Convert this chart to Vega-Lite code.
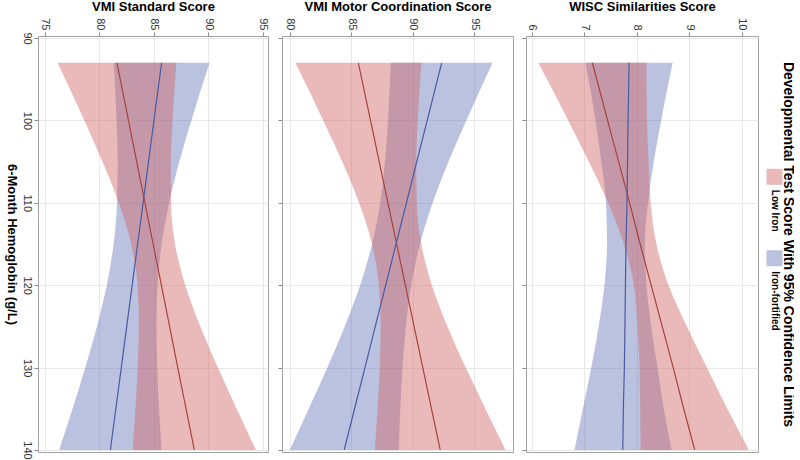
{
  "$schema": "https://vega.github.io/schema/vega-lite/v6.json",
  "padding": {"left": 3, "top": 0, "right": 0, "bottom": 0},
  "background": "white",
  "config": {
    "font": "Liberation Sans",
    "view": {"stroke": "#a0a0a0"},
    "axis": {"gridColor": "#e8e8e8", "tickColor": "#888888", "domain": false, "labelColor": "#333333", "labelFontSize": 11, "titleFontSize": 13, "titleFontWeight": "bold", "titleColor": "#000000", "tickSize": 4, "labelPadding": 2},
    "concat": {"spacing": 7}
  },
  "resolve": {"scale": {"x": "independent", "y": "independent", "color": "independent"}},
  "datasets": {
    "bands": [
      {"test": "VMI Standard Score", "group": "Low Iron", "hb": 93, "fit": 81.6, "lo": 76.15, "hi": 87.05},
      {"test": "VMI Standard Score", "group": "Low Iron", "hb": 100, "fit": 82.66, "lo": 78.61, "hi": 86.71},
      {"test": "VMI Standard Score", "group": "Low Iron", "hb": 105, "fit": 83.41, "lo": 80.27, "hi": 86.55},
      {"test": "VMI Standard Score", "group": "Low Iron", "hb": 110, "fit": 84.17, "lo": 81.77, "hi": 86.57},
      {"test": "VMI Standard Score", "group": "Low Iron", "hb": 115, "fit": 84.92, "lo": 82.91, "hi": 86.93},
      {"test": "VMI Standard Score", "group": "Low Iron", "hb": 120, "fit": 85.68, "lo": 83.49, "hi": 87.87},
      {"test": "VMI Standard Score", "group": "Low Iron", "hb": 125, "fit": 86.43, "lo": 83.61, "hi": 89.25},
      {"test": "VMI Standard Score", "group": "Low Iron", "hb": 130, "fit": 87.18, "lo": 83.5, "hi": 90.86},
      {"test": "VMI Standard Score", "group": "Low Iron", "hb": 135, "fit": 87.94, "lo": 83.3, "hi": 92.58},
      {"test": "VMI Standard Score", "group": "Low Iron", "hb": 140, "fit": 88.7, "lo": 83.04, "hi": 94.36},
      {"test": "VMI Standard Score", "group": "Iron-fortified", "hb": 93, "fit": 85.7, "lo": 81.3, "hi": 90.1},
      {"test": "VMI Standard Score", "group": "Iron-fortified", "hb": 100, "fit": 85.0, "lo": 81.57, "hi": 88.43},
      {"test": "VMI Standard Score", "group": "Iron-fortified", "hb": 105, "fit": 84.5, "lo": 81.67, "hi": 87.33},
      {"test": "VMI Standard Score", "group": "Iron-fortified", "hb": 110, "fit": 84.0, "lo": 81.61, "hi": 86.39},
      {"test": "VMI Standard Score", "group": "Iron-fortified", "hb": 115, "fit": 83.5, "lo": 81.3, "hi": 85.7},
      {"test": "VMI Standard Score", "group": "Iron-fortified", "hb": 120, "fit": 83.0, "lo": 80.67, "hi": 85.33},
      {"test": "VMI Standard Score", "group": "Iron-fortified", "hb": 125, "fit": 82.5, "lo": 79.77, "hi": 85.23},
      {"test": "VMI Standard Score", "group": "Iron-fortified", "hb": 130, "fit": 82.0, "lo": 78.7, "hi": 85.3},
      {"test": "VMI Standard Score", "group": "Iron-fortified", "hb": 135, "fit": 81.5, "lo": 77.53, "hi": 85.47},
      {"test": "VMI Standard Score", "group": "Iron-fortified", "hb": 140, "fit": 81.0, "lo": 76.3, "hi": 85.7},
      {"test": "VMI Motor Coordination Score", "group": "Low Iron", "hb": 93, "fit": 85.57, "lo": 80.44, "hi": 90.7},
      {"test": "VMI Motor Coordination Score", "group": "Low Iron", "hb": 100, "fit": 86.56, "lo": 82.71, "hi": 90.41},
      {"test": "VMI Motor Coordination Score", "group": "Low Iron", "hb": 105, "fit": 87.27, "lo": 84.25, "hi": 90.29},
      {"test": "VMI Motor Coordination Score", "group": "Low Iron", "hb": 110, "fit": 87.98, "lo": 85.63, "hi": 90.33},
      {"test": "VMI Motor Coordination Score", "group": "Low Iron", "hb": 115, "fit": 88.69, "lo": 86.68, "hi": 90.7},
      {"test": "VMI Motor Coordination Score", "group": "Low Iron", "hb": 120, "fit": 89.4, "lo": 87.24, "hi": 91.56},
      {"test": "VMI Motor Coordination Score", "group": "Low Iron", "hb": 125, "fit": 90.11, "lo": 87.39, "hi": 92.83},
      {"test": "VMI Motor Coordination Score", "group": "Low Iron", "hb": 130, "fit": 90.82, "lo": 87.32, "hi": 94.32},
      {"test": "VMI Motor Coordination Score", "group": "Low Iron", "hb": 135, "fit": 91.53, "lo": 87.14, "hi": 95.92},
      {"test": "VMI Motor Coordination Score", "group": "Low Iron", "hb": 140, "fit": 92.24, "lo": 86.92, "hi": 97.56},
      {"test": "VMI Motor Coordination Score", "group": "Iron-fortified", "hb": 93, "fit": 92.36, "lo": 88.21, "hi": 96.51},
      {"test": "VMI Motor Coordination Score", "group": "Iron-fortified", "hb": 100, "fit": 91.18, "lo": 87.99, "hi": 94.37},
      {"test": "VMI Motor Coordination Score", "group": "Iron-fortified", "hb": 105, "fit": 90.33, "lo": 87.74, "hi": 92.92},
      {"test": "VMI Motor Coordination Score", "group": "Iron-fortified", "hb": 110, "fit": 89.49, "lo": 87.35, "hi": 91.63},
      {"test": "VMI Motor Coordination Score", "group": "Iron-fortified", "hb": 115, "fit": 88.64, "lo": 86.69, "hi": 90.59},
      {"test": "VMI Motor Coordination Score", "group": "Iron-fortified", "hb": 120, "fit": 87.8, "lo": 85.72, "hi": 89.88},
      {"test": "VMI Motor Coordination Score", "group": "Iron-fortified", "hb": 125, "fit": 86.95, "lo": 84.46, "hi": 89.44},
      {"test": "VMI Motor Coordination Score", "group": "Iron-fortified", "hb": 130, "fit": 86.11, "lo": 83.05, "hi": 89.17},
      {"test": "VMI Motor Coordination Score", "group": "Iron-fortified", "hb": 135, "fit": 85.26, "lo": 81.53, "hi": 88.99},
      {"test": "VMI Motor Coordination Score", "group": "Iron-fortified", "hb": 140, "fit": 84.42, "lo": 79.98, "hi": 88.86},
      {"test": "WISC Similarities Score", "group": "Low Iron", "hb": 93, "fit": 7.15, "lo": 6.12, "hi": 8.18},
      {"test": "WISC Similarities Score", "group": "Low Iron", "hb": 100, "fit": 7.44, "lo": 6.69, "hi": 8.19},
      {"test": "WISC Similarities Score", "group": "Low Iron", "hb": 105, "fit": 7.65, "lo": 7.08, "hi": 8.22},
      {"test": "WISC Similarities Score", "group": "Low Iron", "hb": 110, "fit": 7.86, "lo": 7.45, "hi": 8.26},
      {"test": "WISC Similarities Score", "group": "Low Iron", "hb": 115, "fit": 8.06, "lo": 7.75, "hi": 8.37},
      {"test": "WISC Similarities Score", "group": "Low Iron", "hb": 120, "fit": 8.27, "lo": 7.94, "hi": 8.6},
      {"test": "WISC Similarities Score", "group": "Low Iron", "hb": 125, "fit": 8.48, "lo": 8.01, "hi": 8.95},
      {"test": "WISC Similarities Score", "group": "Low Iron", "hb": 130, "fit": 8.69, "lo": 8.05, "hi": 9.33},
      {"test": "WISC Similarities Score", "group": "Low Iron", "hb": 135, "fit": 8.89, "lo": 8.06, "hi": 9.72},
      {"test": "WISC Similarities Score", "group": "Low Iron", "hb": 140, "fit": 9.1, "lo": 8.07, "hi": 10.13},
      {"test": "WISC Similarities Score", "group": "Iron-fortified", "hb": 93, "fit": 7.85, "lo": 7.02, "hi": 8.68},
      {"test": "WISC Similarities Score", "group": "Iron-fortified", "hb": 100, "fit": 7.83, "lo": 7.21, "hi": 8.46},
      {"test": "WISC Similarities Score", "group": "Iron-fortified", "hb": 105, "fit": 7.82, "lo": 7.32, "hi": 8.32},
      {"test": "WISC Similarities Score", "group": "Iron-fortified", "hb": 110, "fit": 7.81, "lo": 7.41, "hi": 8.21},
      {"test": "WISC Similarities Score", "group": "Iron-fortified", "hb": 115, "fit": 7.79, "lo": 7.43, "hi": 8.15},
      {"test": "WISC Similarities Score", "group": "Iron-fortified", "hb": 120, "fit": 7.78, "lo": 7.38, "hi": 8.18},
      {"test": "WISC Similarities Score", "group": "Iron-fortified", "hb": 125, "fit": 7.77, "lo": 7.27, "hi": 8.27},
      {"test": "WISC Similarities Score", "group": "Iron-fortified", "hb": 130, "fit": 7.76, "lo": 7.13, "hi": 8.39},
      {"test": "WISC Similarities Score", "group": "Iron-fortified", "hb": 135, "fit": 7.74, "lo": 6.97, "hi": 8.51},
      {"test": "WISC Similarities Score", "group": "Iron-fortified", "hb": 140, "fit": 7.73, "lo": 6.81, "hi": 8.66}
    ],
    "legend": [{"group": "Low Iron", "order": 0}, {"group": "Iron-fortified", "order": 1}]
  },
  "hconcat": [
    {
      "width": 230, "height": 416,
      "data": {"name": "bands"},
      "transform": [{"filter": "datum.test === 'VMI Standard Score'"}],
      "encoding": {
        "y": {"field": "hb", "type": "quantitative", "scale": {"domain": [89.75, 140.25], "nice": false, "zero": false, "reverse": true},
              "axis": {"values": [90, 100, 110, 120, 130, 140], "labelAngle": 90, "title": "6-Month Hemoglobin (g/L)", "titleAngle": 90, "titleBaseline": "top", "titlePadding": 4, "grid": true}}
      },
      "layer": [
        {"transform": [{"filter": "datum.group === 'Iron-fortified'"}],
         "mark": {"type": "area", "interpolate": "monotone", "opacity": 0.45, "color": "#6677b8"},
         "encoding": {"x": {"field": "lo", "type": "quantitative", "title": "VMI Standard Score", "scale": {"domain": [74.36, 95.46], "nice": false, "zero": false},
                            "axis": {"orient": "top", "values": [75, 80, 85, 90, 95], "labelAngle": 90, "grid": true, "titlePadding": 4}},
                      "x2": {"field": "hi"}}},
        {"transform": [{"filter": "datum.group === 'Low Iron'"}],
         "mark": {"type": "area", "interpolate": "monotone", "opacity": 0.45, "color": "#d06666"},
         "encoding": {"x": {"field": "lo", "type": "quantitative", "title": "VMI Standard Score"}, "x2": {"field": "hi"}}},
        {"mark": {"type": "line", "strokeWidth": 1.2},
         "encoding": {"x": {"field": "fit", "type": "quantitative", "title": "VMI Standard Score"}, "order": {"field": "hb"},
                      "color": {"field": "group", "type": "nominal", "scale": {"domain": ["Low Iron", "Iron-fortified"], "range": ["#a8423c", "#4a5aa3"]}, "legend": null}}}
      ]
    },
    {
      "width": 231, "height": 416,
      "data": {"name": "bands"},
      "transform": [{"filter": "datum.test === 'VMI Motor Coordination Score'"}],
      "encoding": {
        "y": {"field": "hb", "type": "quantitative", "scale": {"domain": [89.75, 140.25], "nice": false, "zero": false, "reverse": true},
              "axis": {"values": [90, 100, 110, 120, 130, 140], "labels": false, "title": null, "grid": true}}
      },
      "layer": [
        {"transform": [{"filter": "datum.group === 'Iron-fortified'"}],
         "mark": {"type": "area", "interpolate": "monotone", "opacity": 0.45, "color": "#6677b8"},
         "encoding": {"x": {"field": "lo", "type": "quantitative", "title": "VMI Motor Coordination Score", "scale": {"domain": [79.35, 98.17], "nice": false, "zero": false},
                            "axis": {"orient": "top", "values": [80, 85, 90, 95], "labelAngle": 90, "grid": true, "titlePadding": 4}},
                      "x2": {"field": "hi"}}},
        {"transform": [{"filter": "datum.group === 'Low Iron'"}],
         "mark": {"type": "area", "interpolate": "monotone", "opacity": 0.45, "color": "#d06666"},
         "encoding": {"x": {"field": "lo", "type": "quantitative", "title": "VMI Motor Coordination Score"}, "x2": {"field": "hi"}}},
        {"mark": {"type": "line", "strokeWidth": 1.2},
         "encoding": {"x": {"field": "fit", "type": "quantitative", "title": "VMI Motor Coordination Score"}, "order": {"field": "hb"},
                      "color": {"field": "group", "type": "nominal", "scale": {"domain": ["Low Iron", "Iron-fortified"], "range": ["#a8423c", "#4a5aa3"]}, "legend": null}}}
      ]
    },
    {
      "width": 232, "height": 416,
      "data": {"name": "bands"},
      "transform": [{"filter": "datum.test === 'WISC Similarities Score'"}],
      "encoding": {
        "y": {"field": "hb", "type": "quantitative", "scale": {"domain": [89.75, 140.25], "nice": false, "zero": false, "reverse": true},
              "axis": {"values": [90, 100, 110, 120, 130, 140], "labels": false, "title": null, "grid": true}}
      },
      "layer": [
        {"transform": [{"filter": "datum.group === 'Iron-fortified'"}],
         "mark": {"type": "area", "interpolate": "monotone", "opacity": 0.45, "color": "#6677b8"},
         "encoding": {"x": {"field": "lo", "type": "quantitative", "title": "WISC Similarities Score", "scale": {"domain": [5.886, 10.305], "nice": false, "zero": false},
                            "axis": {"orient": "top", "values": [6, 7, 8, 9, 10], "labelAngle": 90, "grid": true, "titlePadding": 4}},
                      "x2": {"field": "hi"}}},
        {"transform": [{"filter": "datum.group === 'Low Iron'"}],
         "mark": {"type": "area", "interpolate": "monotone", "opacity": 0.45, "color": "#d06666"},
         "encoding": {"x": {"field": "lo", "type": "quantitative", "title": "WISC Similarities Score"}, "x2": {"field": "hi"}}},
        {"mark": {"type": "line", "strokeWidth": 1.2},
         "encoding": {"x": {"field": "fit", "type": "quantitative", "title": "WISC Similarities Score"}, "order": {"field": "hb"},
                      "color": {"field": "group", "type": "nominal", "scale": {"domain": ["Low Iron", "Iron-fortified"], "range": ["#a8423c", "#4a5aa3"]}, "legend": null}}}
      ]
    },
    {
      "width": 11, "height": 416,
      "view": {"stroke": null},
      "data": {"name": "legend"},
      "encoding": {
        "y": {"field": "order", "type": "quantitative", "scale": {"domain": [-1.73, 3.38], "nice": false, "zero": false, "reverse": true},
              "axis": {"orient": "right", "title": "Developmental Test Score With 95% Confidence Limits", "titleAngle": 90, "labels": false, "ticks": false, "domain": false, "grid": false, "titleFontSize": 14, "titlePadding": 0}}
      },
      "layer": [
        {"mark": {"type": "square", "size": 256, "filled": true, "opacity": 0.45},
         "encoding": {"color": {"field": "group", "type": "nominal", "scale": {"domain": ["Low Iron", "Iron-fortified"], "range": ["#d06666", "#6677b8"]}, "legend": null}}},
        {"mark": {"type": "text", "angle": 90, "align": "left", "baseline": "middle", "dx": 13, "fontSize": 10, "fontWeight": "bold", "color": "#000000"},
         "encoding": {"text": {"field": "group"}}}
      ]
    }
  ]
}
